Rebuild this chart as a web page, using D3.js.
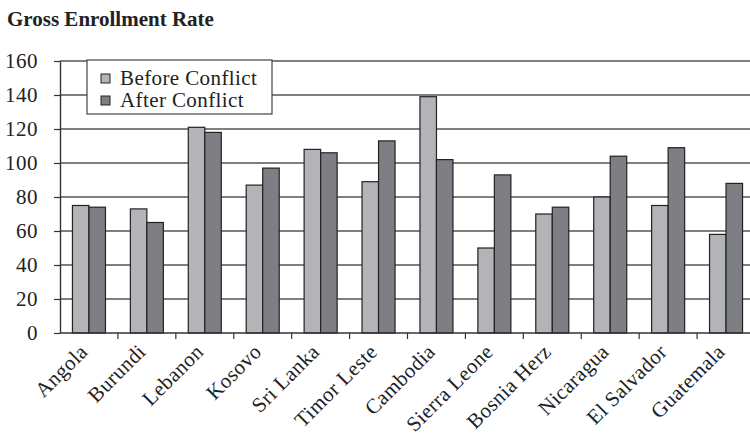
<!DOCTYPE html>
<html>
<head>
<meta charset="utf-8">
<script src="https://cdn.jsdelivr.net/npm/d3@7"></script>
<style>
  body { margin: 0; background: #fff; }
  svg { display: block; font-family: "Liberation Serif", "DejaVu Serif", serif; }
</style>
</head>
<body>
<div id="chart"></div>
<script>
var countries = ['Angola', 'Burundi', 'Lebanon', 'Kosovo', 'Sri Lanka', 'Timor Leste',
  'Cambodia', 'Sierra Leone', 'Bosnia Herz', 'Nicaragua', 'El Salvador', 'Guatemala'];
var seriesNames = ['Before Conflict', 'After Conflict'];
var beforeConflict = [75, 73, 121, 87, 108, 89, 139, 50, 70, 80, 75, 58];
var afterConflict = [74, 65, 118, 97, 106, 113, 102, 93, 74, 104, 109, 88];
var yTicks = [0, 20, 40, 60, 80, 100, 120, 140, 160];

var w = 750, h = 436;
var plotLeft = 60, plotRight = 755, plotTop = 61, plotBottom = 333;
var colors = ['#b3b4b8', '#7e7f84'];

var svg = d3.select('#chart').append('svg')
  .attr('width', w)
  .attr('height', h);

svg.append('text')
  .attr('x', 7)
  .attr('y', 26)
  .style('font-size', '21px')
  .style('font-weight', 'bold')
  .style('fill', '#222')
  .text('Gross Enrollment Rate');

var y = d3.scaleLinear().domain([0, 160]).range([plotBottom, plotTop]);
var x0 = d3.scaleBand().domain(countries).range([plotLeft, plotRight]);
var x1 = d3.scaleBand().domain(seriesNames)
  .range([x0.bandwidth() * 0.215, x0.bandwidth() * 0.785]);

// gridlines
svg.append('g').selectAll('line')
  .data(yTicks.slice(1))
  .enter().append('line')
  .attr('x1', plotLeft).attr('x2', plotRight)
  .attr('y1', d => y(d)).attr('y2', d => y(d))
  .style('stroke', '#555')
  .style('stroke-width', 1.4);

var rows = countries.map((c, i) => ({ name: c, values: [beforeConflict[i], afterConflict[i]] }));

var groups = svg.append('g').selectAll('g')
  .data(rows)
  .enter().append('g')
  .attr('transform', d => 'translate(' + x0(d.name) + ',0)');

groups.selectAll('rect')
  .data(d => d.values.map((v, i) => ({ key: seriesNames[i], value: v, i: i })))
  .enter().append('rect')
  .attr('x', d => x1(d.key))
  .attr('y', d => y(d.value))
  .attr('width', x1.bandwidth())
  .attr('height', d => plotBottom - y(d.value))
  .style('fill', d => colors[d.i])
  .style('stroke', '#222')
  .style('stroke-width', 1.2);

// y axis
var yAxis = svg.append('g')
  .attr('transform', 'translate(' + plotLeft + ',0)')
  .call(d3.axisLeft(y).tickValues(yTicks).tickSize(6).tickSizeOuter(0).tickPadding(16));
yAxis.select('.domain').style('stroke', '#333').style('stroke-width', 1.4);
yAxis.selectAll('.tick line').style('stroke', '#333').style('stroke-width', 1.2);
yAxis.selectAll('text')
  .style('font-family', '"Liberation Serif", serif')
  .style('font-size', '21px')
  .style('letter-spacing', '0.5px')
  .style('fill', '#222');

// x axis with ticks at band boundaries
var xAxis = svg.append('g')
  .attr('transform', 'translate(0,' + plotBottom + ')');
xAxis.append('line')
  .attr('x1', plotLeft).attr('x2', plotRight)
  .style('stroke', '#333').style('stroke-width', 1.4);
xAxis.selectAll('.bt')
  .data(countries.slice(1))
  .enter().append('line')
  .attr('class', 'bt')
  .attr('x1', d => x0(d)).attr('x2', d => x0(d))
  .attr('y1', 0).attr('y2', 6)
  .style('stroke', '#333').style('stroke-width', 1.2);
xAxis.selectAll('text')
  .data(countries)
  .enter().append('text')
  .attr('transform', d => 'translate(' + (x0(d) + x0.bandwidth() / 2) + ',20) rotate(-45)')
  .style('text-anchor', 'end')
  .style('font-size', '21px')
  .style('letter-spacing', '0.4px')
  .style('fill', '#222')
  .text(d => d);

// legend
var legend = svg.append('g').attr('transform', 'translate(87,60)');
legend.append('rect')
  .attr('width', 185).attr('height', 54)
  .style('fill', '#fff')
  .style('stroke', '#444')
  .style('stroke-width', 1.2);
var items = legend.selectAll('.li')
  .data(seriesNames)
  .enter().append('g')
  .attr('class', 'li')
  .attr('transform', (d, i) => 'translate(0,' + (i * 22) + ')');
items.append('rect')
  .attr('x', 14).attr('y', 14)
  .attr('width', 9).attr('height', 9)
  .style('fill', (d, i) => colors[i])
  .style('stroke', '#222')
  .style('stroke-width', 1);
items.append('text')
  .attr('x', 33).attr('y', 25)
  .style('font-size', '21px')
  .style('letter-spacing', '0.4px')
  .style('fill', '#222')
  .text(d => d);
</script>
</body>
</html>
